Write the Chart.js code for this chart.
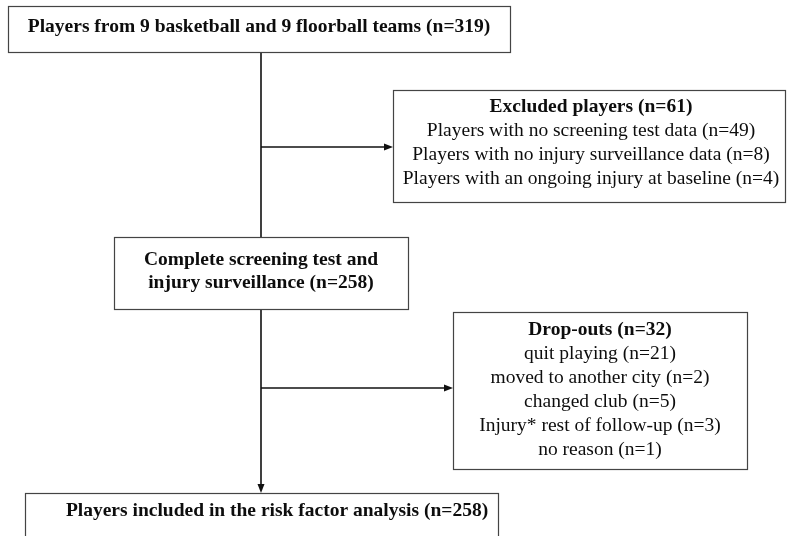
<!DOCTYPE html>
<html>
<head>
<meta charset="utf-8">
<script src="https://cdn.jsdelivr.net/npm/chart.js@4.4.1/dist/chart.umd.min.js"></script>
<style>
  html, body { margin: 0; padding: 0; background: #fff; }
</style>
</head>
<body>
<canvas id="flowChart" width="792" height="536"></canvas>
<script>
// box texts, top to bottom
const boxTitles = [
    ["Players from 9 basketball and 9 floorball teams (n=319)"],
    ["Excluded players (n=61)"],
    ["Complete screening test and", "injury surveillance (n=258)"],
    ["Drop-outs (n=32)"],
    ["Players included in the risk factor analysis (n=258)"]
];
const boxDetails = [
    [],
    ["Players with no screening test data (n=49)",
     "Players with no injury surveillance data (n=8)",
     "Players with an ongoing injury at baseline (n=4)"],
    [],
    ["quit playing (n=21)",
     "moved to another city (n=2)",
     "changed club (n=5)",
     "Injury* rest of follow-up (n=3)",
     "no reason (n=1)"],
    []
];

// where things sit, in scale units (0..792 x 0..536)
const layout = {
    boxes: [
        { x0: 8,   y0: 6,   x1: 510, y1: 52,  tx: 259, ty: 27,    lh: 23 },
        { x0: 393, y0: 90,  x1: 785, y1: 202, tx: 591, ty: 107,   lh: 24 },
        { x0: 114, y0: 237, x1: 408, y1: 309, tx: 261, ty: 259.5, lh: 23 },
        { x0: 453, y0: 312, x1: 747, y1: 469, tx: 600, ty: 330,   lh: 24 },
        { x0: 25,  y0: 493, x1: 498, y1: 560, tx: 277, ty: 511,   lh: 23 }
    ],
    trunkX: 261,
    branches: [{ y: 147, to: 393 }, { y: 388, to: 453 }]
};

const font = "\"Liberation Serif\", \"Times New Roman\", serif";

function segment(points) {
    return {
        type: "line",
        data: points,
        showLine: true,
        borderColor: "#111",
        borderWidth: 1.6,
        pointRadius: 0,
        fill: false
    };
}

const b = layout.boxes;
const connectors = [
    segment([{ x: layout.trunkX, y: b[0].y1 }, { x: layout.trunkX, y: b[2].y0 }]),
    segment([{ x: layout.trunkX, y: b[2].y1 }, { x: layout.trunkX, y: b[4].y0 - 7 }]),
    segment([{ x: layout.trunkX, y: layout.branches[0].y }, { x: layout.branches[0].to - 7, y: layout.branches[0].y }]),
    segment([{ x: layout.trunkX, y: layout.branches[1].y }, { x: layout.branches[1].to - 7, y: layout.branches[1].y }])
];

function arrowHead(ctx, px, py, dir) {
    let len = 9, half = 3.5;
    ctx.beginPath();
    if (dir === "right") {
        ctx.moveTo(px, py);
        ctx.lineTo(px - len, py - half);
        ctx.lineTo(px - len, py + half);
    } else {
        ctx.moveTo(px, py);
        ctx.lineTo(px - half, py - len);
        ctx.lineTo(px + half, py - len);
    }
    ctx.closePath();
    ctx.fill();
}

const flowBoxes = {
    id: "flowBoxes",
    afterDatasetsDraw(chart) {
        const { ctx, scales: { x, y } } = chart;
        ctx.save();

        layout.boxes.forEach((box, i) => {
            let left = Math.round(x.getPixelForValue(box.x0)) + 0.5;
            let right = Math.round(x.getPixelForValue(box.x1)) + 0.5;
            let top = Math.round(y.getPixelForValue(box.y0)) + 0.5;
            let bottom = Math.round(y.getPixelForValue(box.y1)) + 0.5;
            ctx.strokeStyle = "#444";
            ctx.lineWidth = 1.2;
            ctx.strokeRect(left, top, right - left, bottom - top);

            ctx.fillStyle = "#0d0d0d";
            ctx.textAlign = "center";
            ctx.textBaseline = "middle";
            let cx = x.getPixelForValue(box.tx);
            let row = 0;
            ctx.font = "bold 19.5px " + font;
            boxTitles[i].forEach(t => {
                ctx.fillText(t, cx, y.getPixelForValue(box.ty + row * box.lh));
                row++;
            });
            ctx.font = "19.5px " + font;
            boxDetails[i].forEach(t => {
                ctx.fillText(t, cx, y.getPixelForValue(box.ty + row * box.lh));
                row++;
            });
        });

        ctx.fillStyle = "#111";
        layout.branches.forEach(br => {
            arrowHead(ctx, x.getPixelForValue(br.to), y.getPixelForValue(br.y), "right");
        });
        arrowHead(ctx, x.getPixelForValue(layout.trunkX), y.getPixelForValue(b[4].y0), "down");

        ctx.restore();
    }
};

new Chart(document.getElementById("flowChart"), {
    type: "scatter",
    data: { datasets: connectors },
    options: {
        responsive: false,
        animation: false,
        devicePixelRatio: 1,
        layout: { padding: 0 },
        plugins: { legend: { display: false }, tooltip: { enabled: false } },
        scales: {
            x: { type: "linear", min: 0, max: 792, display: false },
            y: { type: "linear", min: 0, max: 536, reverse: true, display: false }
        }
    },
    plugins: [flowBoxes]
});
</script>
</body>
</html>
